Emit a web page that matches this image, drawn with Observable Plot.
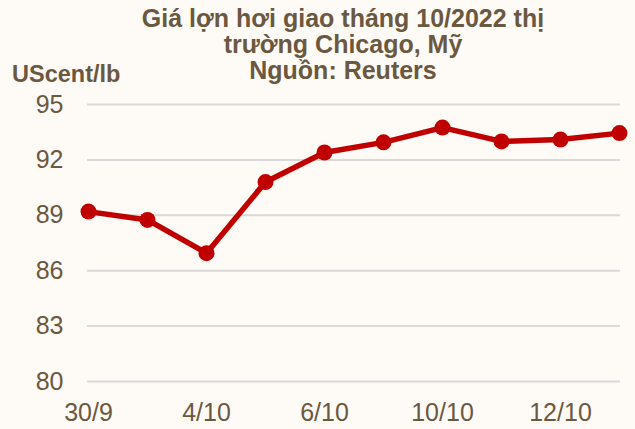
<!DOCTYPE html>
<html>
<head>
<meta charset="utf-8">
<script src="https://cdn.jsdelivr.net/npm/d3@7"></script>
<script src="https://cdn.jsdelivr.net/npm/@observablehq/plot@0.6"></script>
<style>
  html, body { margin: 0; padding: 0; background: #FEFBF6; }
  #wrap { position: relative; width: 635px; height: 429px; overflow: hidden; background: #FEFBF6; font-family: "Liberation Sans", Arial, sans-serif; }
  #title { position: absolute; left: 343px; top: 5px; transform: translateX(-50%); text-align: center; white-space: nowrap;
           font-weight: bold; font-size: 25px; line-height: 26px; color: #6B5840; }
  #unit { position: absolute; left: 12px; top: 62px; font-weight: bold; font-size: 23.5px; line-height: 24px; color: #6B5840; }
  #chart { position: absolute; left: 0; top: 0; }
</style>
</head>
<body>
<div id="wrap">
  <div id="chart"></div>
  <div id="title">Giá lợn hơi giao tháng 10/2022 thị<br>trường Chicago, Mỹ<br>Nguồn: Reuters</div>
  <div id="unit">UScent/lb</div>
</div>
<script>
const dates = ["30/9", "3/10", "4/10", "5/10", "6/10", "7/10", "10/10", "11/10", "12/10", "13/10"];
const prices = [89.2, 88.75, 86.95, 90.8, 92.4, 92.95, 93.75, 93.0, 93.1, 93.45];
const xTickLabels = ["30/9", "4/10", "6/10", "10/10", "12/10"];
const yTicks = [80, 83, 86, 89, 92, 95];

const data = dates.map((d, i) => ({date: d, price: prices[i]}));
const textColor = "#6B5840";
const red = "#C00000";

const chart = Plot.plot({
  width: 635,
  height: 429,
  marginTop: 104,
  marginBottom: 48,
  marginLeft: 87,
  marginRight: 15,
  style: { background: "transparent", fontFamily: "'Liberation Sans', Arial, sans-serif", fontSize: "25px", color: textColor },
  x: { type: "point", domain: dates, padding: 0 },
  y: { domain: [80, 95] },
  marks: [
    Plot.gridY(yTicks, { stroke: "#D9D9D9", strokeOpacity: 1, strokeWidth: 2 }),
    Plot.axisY(yTicks, { tickSize: 0, tickPadding: 24, fontSize: 25, fill: textColor, label: null }),
    Plot.axisX(xTickLabels, { tickSize: 0, tickPadding: 22, fontSize: 25, fill: textColor, label: null }),
    Plot.line(data, { x: "date", y: "price", stroke: red, strokeWidth: 5.5 }),
    Plot.dot(data, { x: "date", y: "price", fill: red, r: 8 })
  ]
});
document.getElementById("chart").appendChild(chart);
</script>
</body>
</html>
